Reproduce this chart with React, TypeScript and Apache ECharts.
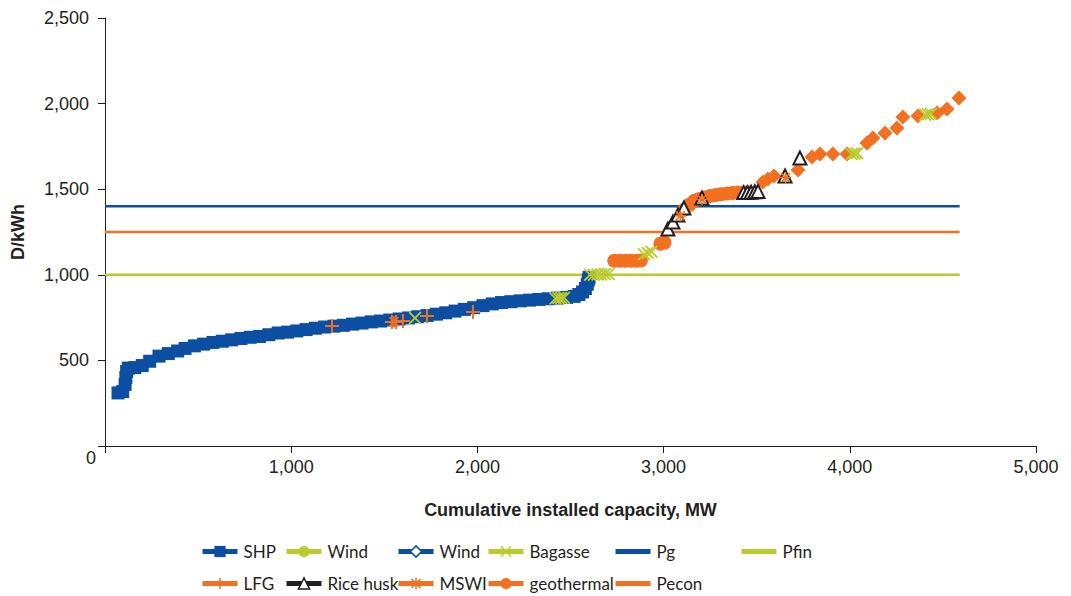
import React, { useEffect, useRef } from "react";
import * as echarts from "echarts";

const xTicks = [0, 1000, 2000, 3000, 4000, 5000];
const yTicks = [0, 500, 1000, 1500, 2000, 2500];

const shpData: number[][] = [
  [70, 310], [95, 318], [108, 360], [112, 400], [116, 435], [125, 455], [160, 458], [200, 470],
  [240, 495], [290, 525], [340, 540], [390, 555], [430, 570], [480, 585], [530, 595],
  [580, 605], [630, 612], [680, 620], [730, 628], [780, 635], [830, 640], [880, 650],
  [930, 660], [980, 665], [1030, 672], [1080, 680], [1130, 688], [1180, 695], [1230, 700],
  [1280, 705], [1330, 712], [1380, 718], [1430, 725], [1480, 730], [1530, 736], [1580, 742],
  [1630, 748], [1680, 755], [1730, 762], [1780, 770], [1830, 778], [1880, 788], [1930, 798],
  [1980, 808], [2030, 820], [2080, 830], [2130, 838], [2180, 843], [2230, 848], [2280, 852],
  [2330, 856], [2380, 860], [2430, 864], [2480, 868], [2520, 874], [2545, 885], [2565, 900],
  [2580, 920], [2590, 945], [2596, 970], [2600, 985]
];
const windCircleData: number[][] = [];
const windDiamondData: number[][] = [
  [3534, 1542], [3560, 1559], [3593, 1577], [3722, 1612], [3797, 1688], [3840, 1705],
  [3909, 1705], [3985, 1705], [4092, 1770], [4124, 1799], [4189, 1828], [4253, 1857],
  [4285, 1921], [4366, 1927], [4468, 1945], [4522, 1968], [4586, 2032]
];
const bagasseData: number[][] = [
  [1665, 748], [2420, 862], [2435, 864], [2450, 864], [2465, 866],
  [2605, 1000], [2625, 1000], [2645, 1002], [2665, 1002], [2685, 1004], [2705, 1005],
  [2895, 1120], [2915, 1128], [2935, 1135],
  [4010, 1705], [4025, 1708], [4040, 1710], [4405, 1935], [4420, 1938], [4435, 1940]
];
const lfgData: number[][] = [
  [1219, 701], [1541, 724], [1563, 724], [1600, 730], [1729, 759], [1976, 783]
];
const riceHuskData: number[][] = [
  [3023, 1267], [3050, 1308], [3077, 1349], [3109, 1390], [3206, 1448],
  [3430, 1480], [3450, 1480], [3470, 1482], [3490, 1485], [3507, 1487],
  [3652, 1577], [3732, 1682]
];
const mswiData: number[][] = [
  [1552, 726], [3090, 1345], [3206, 1440], [3655, 1568]
];
const geothermalData: number[][] = [
  [2735, 1082], [2765, 1082], [2795, 1082], [2825, 1082], [2855, 1082], [2878, 1084],
  [2983, 1182], [3005, 1188],
  [3110, 1380], [3140, 1410], [3165, 1432], [3190, 1442], [3220, 1452], [3250, 1460],
  [3280, 1466], [3310, 1471], [3340, 1475], [3370, 1478], [3400, 1480], [3430, 1481],
  [3455, 1482]
];
const pgData: number[][] = [[0, 1400], [4590, 1400]];
const pfinData: number[][] = [[0, 1000], [4590, 1000]];
const peconData: number[][] = [[0, 1250], [4590, 1250]];

const BLUE = "#0b4ea2";
const ORANGE = "#f37021";
const GREEN = "#bccb2c";
const BLACK = "#231f20";
const FONT = "Liberation Sans";
const LEGEND_FONT = "Lato";

const X_PATH = "path://M0,1 L1,0 L5,4 L9,0 L10,1 L6,5 L10,9 L9,10 L5,6 L1,10 L0,9 L4,5 Z";
const PLUS_PATH = "path://M4.3,0 H5.7 V4.3 H10 V5.7 H5.7 V10 H4.3 V5.7 H0 V4.3 H4.3 Z";
const STAR_PATH =
  "path://M4.3,0 H5.7 V4.3 H10 V5.7 H5.7 V10 H4.3 V5.7 H0 V4.3 H4.3 Z M0.5,1.5 L1.5,0.5 L5,4 L8.5,0.5 L9.5,1.5 L6,5 L9.5,8.5 L8.5,9.5 L5,6 L1.5,9.5 L0.5,8.5 L4,5 Z";

const fmt = (v: number) => (v === 0 ? "" : v.toLocaleString("en-US"));

export default function App() {
  const ref = useRef<HTMLDivElement>(null);
  useEffect(() => {
    if (!ref.current) return;
    const chart = echarts.init(ref.current, null, { renderer: "svg" });

    const pts = (
      name: string,
      data: number[][],
      symbol: string,
      size: number,
      itemStyle: any,
      z = 2
    ) => ({
      name,
      type: "line",
      data,
      symbol,
      symbolSize: size,
      showAllSymbol: true,
      z,
      lineStyle: { width: 0, opacity: 0 },
      itemStyle,
      emphasis: { disabled: true },
    });
    const hline = (name: string, data: number[][], color: string) => ({
      name,
      type: "line",
      data,
      symbol: "none",
      lineStyle: { width: 2.5, color },
      itemStyle: { color },
      z: 1,
      emphasis: { disabled: true },
    });

    const series: any[] = [
      hline("Pg", pgData, BLUE),
      hline("Pfin", pfinData, GREEN),
      hline("Pecon", peconData, ORANGE),
      pts("SHP", shpData, "rect", 13, { color: BLUE }),
      pts("Wind", windCircleData, "circle", 12, { color: GREEN }),
      pts("Wind2", windDiamondData, "diamond", 15, { color: ORANGE }),
      pts("geothermal", geothermalData, "circle", 14, { color: ORANGE }),
      pts("Rice husk", riceHuskData, "triangle", 13, { color: "#fff", borderColor: BLACK, borderWidth: 2 }, 3),
      pts("Bagasse", bagasseData, X_PATH, 13, { color: GREEN }, 4),
      pts("LFG", lfgData, PLUS_PATH, 14, { color: ORANGE }, 4),
      pts("MSWI", mswiData, STAR_PATH, 11, { color: ORANGE }, 4),
    ];

    const legendItem = (
      name: string,
      left: number,
      top: number,
      color: string,
      extra: any = {}
    ) => ({
      left,
      top,
      orient: "horizontal",
      padding: 0,
      itemWidth: 35,
      itemHeight: 14,
      selectedMode: false,
      formatter: (n: string) => (n === "Wind2" ? "Wind" : n),
      textStyle: { fontSize: 17, color: BLACK, fontFamily: LEGEND_FONT, padding: [0, 0, 0, 1] },
      data: [
        {
          name,
          lineStyle: { width: 5, opacity: 1, color },
          ...extra,
        },
      ],
    });

    const noMark = { itemStyle: { opacity: 0 } };
    const r1 = 543;
    const r2 = 575;
    const legend = [
      legendItem("SHP", 200, r1, BLUE),
      legendItem("Wind", 284, r1, GREEN),
      legendItem("Wind2", 396, r1, BLUE, {
        itemStyle: { color: "#fff", borderColor: BLUE, borderWidth: 1.5 },
      }),
      legendItem("Bagasse", 486, r1, GREEN),
      legendItem("Pg", 613, r1, BLUE, noMark),
      legendItem("Pfin", 739, r1, GREEN, noMark),
      legendItem("LFG", 200, r2, ORANGE),
      legendItem("Rice husk", 284, r2, BLACK, {
        itemStyle: { color: "#fff", borderColor: BLACK, borderWidth: 1.5 },
      }),
      legendItem("MSWI", 396, r2, ORANGE),
      legendItem("geothermal", 486, r2, ORANGE),
      legendItem("Pecon", 613, r2, ORANGE, noMark),
    ];

    chart.setOption({
      animation: false,
      backgroundColor: "#fff",
      textStyle: { fontFamily: FONT },
      grid: { left: 105, right: 35, top: 18, bottom: 150, containLabel: false },
      xAxis: {
        type: "value",
        min: xTicks[0],
        max: xTicks[xTicks.length - 1],
        interval: 1000,
        name: "Cumulative installed capacity, MW",
        nameLocation: "middle",
        nameGap: 55,
        nameTextStyle: { fontSize: 18, fontWeight: "bold", color: BLACK, fontFamily: FONT },
        axisLine: { show: true, onZero: false, lineStyle: { color: BLACK, width: 1 } },
        axisTick: { show: true, inside: false, length: 7, lineStyle: { color: BLACK } },
        axisLabel: { formatter: fmt, fontSize: 18, color: BLACK, margin: 12, fontFamily: FONT },
        splitLine: { show: false },
      },
      yAxis: {
        type: "value",
        min: yTicks[0],
        max: yTicks[yTicks.length - 1],
        interval: 500,
        name: "D/kWh",
        nameLocation: "middle",
        nameGap: 78,
        nameRotate: 90,
        nameTextStyle: { fontSize: 18, fontWeight: "bold", color: BLACK, fontFamily: FONT },
        axisLine: { show: true, onZero: false, lineStyle: { color: BLACK, width: 1 } },
        axisTick: { show: true, inside: false, length: 7, lineStyle: { color: BLACK } },
        axisLabel: { formatter: fmt, fontSize: 18, color: BLACK, margin: 16, fontFamily: FONT },
        splitLine: { show: false },
      },
      legend,
      graphic: [
        {
          type: "text",
          left: 86,
          top: 449,
          style: { text: "0", fontSize: 18, fill: BLACK, fontFamily: FONT },
        },
      ],
      series,
    });
    return () => chart.dispose();
  }, []);
  return (
    <div
      ref={ref}
      style={{ position: "fixed", left: 0, top: 0, width: 1071, height: 596 }}
    />
  );
}
